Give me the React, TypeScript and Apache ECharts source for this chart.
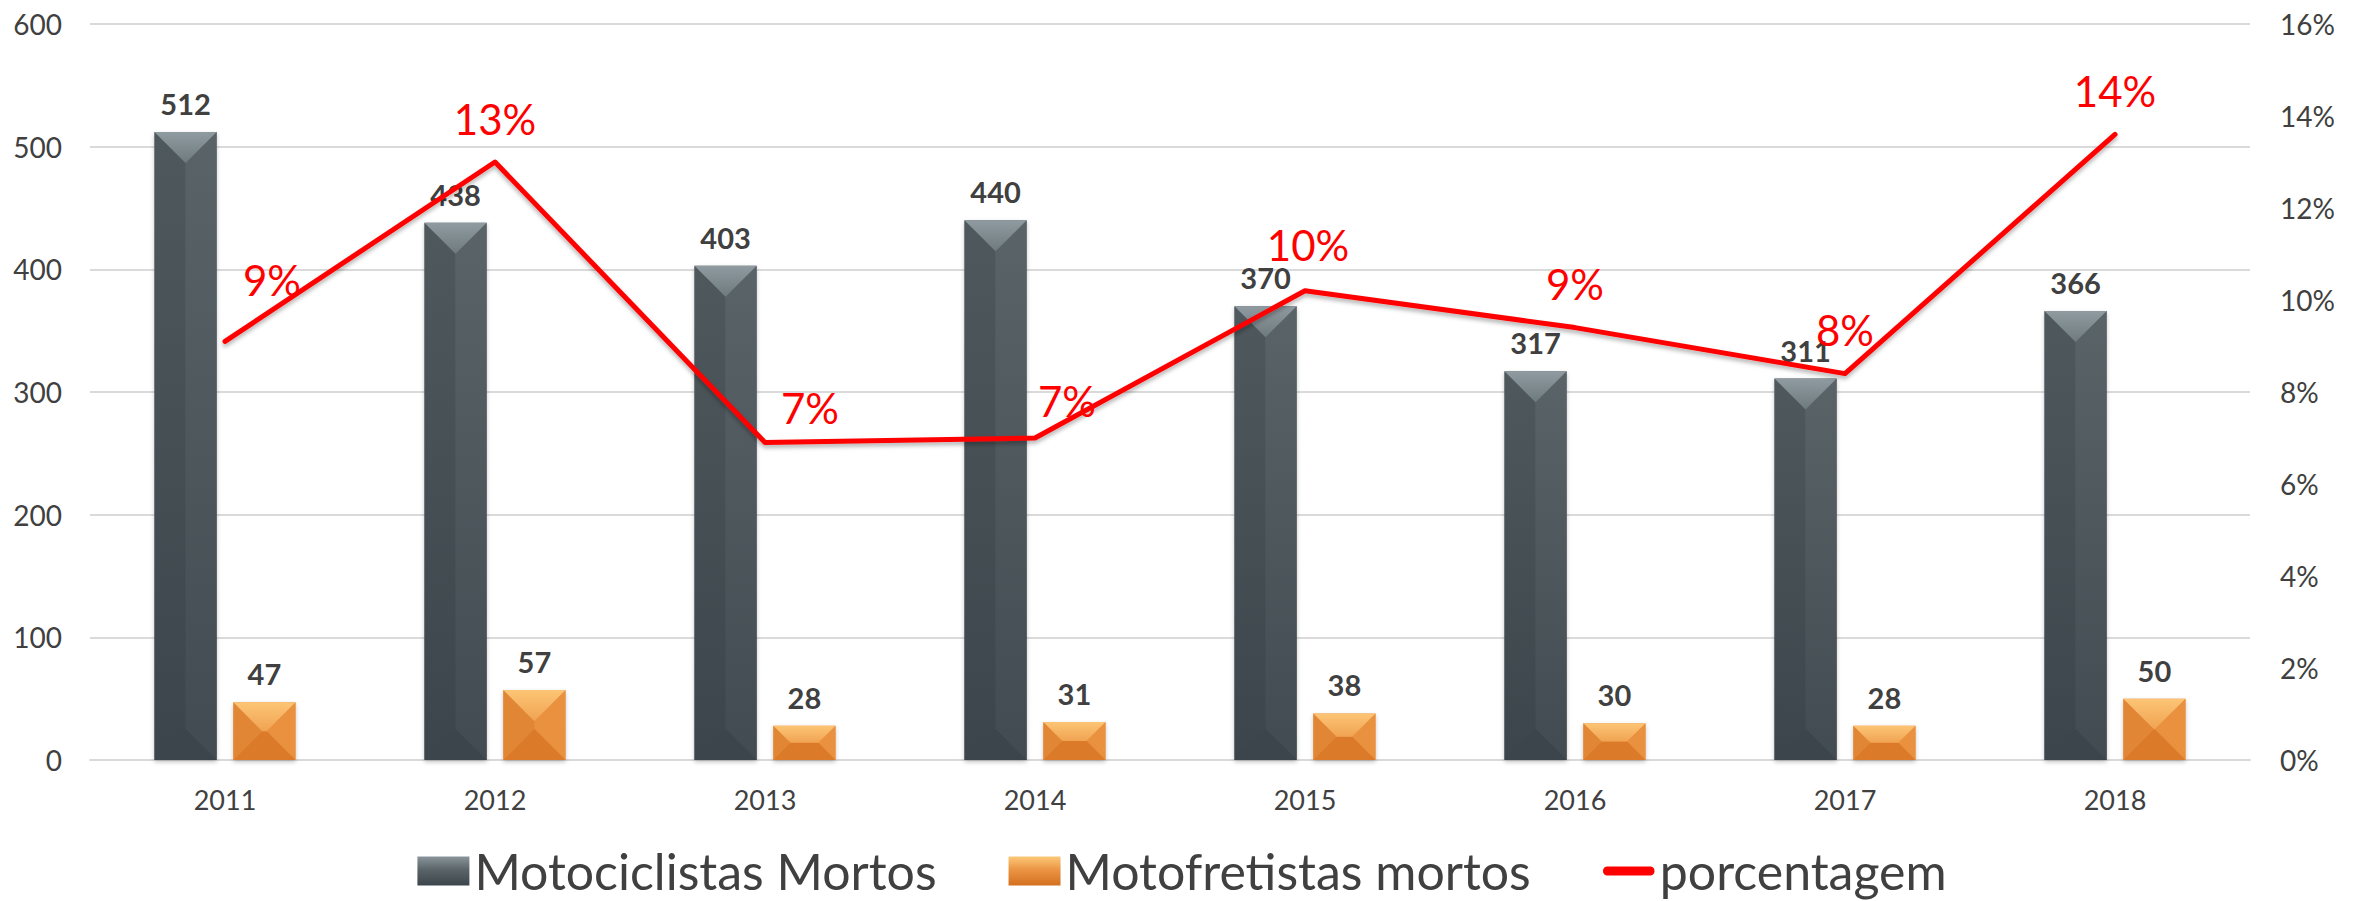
import React, { useEffect, useRef } from "react";
import * as echarts from "echarts";

// ---- data ----
const YEARS = ["2011", "2012", "2013", "2014", "2015", "2016", "2017", "2018"];
const MOTOCICLISTAS = [512, 438, 403, 440, 370, 317, 311, 366];
const MOTOFRETISTAS = [47, 57, 28, 31, 38, 30, 28, 50];
const PORCENTAGEM = [9.1, 13.0, 6.9, 7.0, 10.2, 9.4, 8.4, 13.6];
const LEFT_AXIS = { min: 0, max: 600, interval: 100 };
const RIGHT_AXIS = { min: 0, max: 16, interval: 2 };
const SERIES_NAMES = ["Motociclistas Mortos", "Motofretistas mortos", "porcentagem"];

// ---- style ----
const FONT = 'Lato, "Noto Sans", sans-serif';
const TEXT = "#404040";
const BAR_W = 0.23;
const BAR_GAP = 0.27;
const PCT_LABEL_OFFSETS: number[][] = [
  [47, -18], [0, 0], [45, 9], [32, 6], [3, -2], [0, 0], [0, 0], [0, 0],
];
const LINE_ICON = "path://M0,0 L0,0 M4,10 L48,10 C53,10 53,19 48,19 L4,19 C-1,19 -1,10 4,10 Z M52,29 L52,29";

const lg = (stops: [number, string][]) =>
  new echarts.graphic.LinearGradient(0, 0, 0, 1, stops.map(([offset, color]) => ({ offset, color })));

const DARK = {
  top: () => lg([[0, "#909ba1"], [1, "#6f7a7f"]]),
  bottom: () => "#3c454b",
  left: () => lg([[0, "#4f585d"], [1, "#3c454b"]]),
  center: () => lg([[0, "#566065"], [1, "#40494f"]]),
  right: () => lg([[0, "#596368"], [1, "#424b51"]]),
};
const ORANGE = {
  top: () => lg([[0, "#fcc575"], [1, "#f0a352"]]),
  bottom: () => "#db7a28",
  left: () => "#e18634",
  center: () => "#e68c3b",
  right: () => "#e9913f",
};

function bevel(side: number, pal: any) {
  return (params: any, api: any) => {
    const i = api.value(0);
    const v = api.value(1);
    const p0 = api.coord([i, 0]);
    const p1 = api.coord([i, v]);
    const band = api.size([1, 0])[0];
    const w = band * BAR_W;
    const gap = w * BAR_GAP;
    const cx = p0[0] + side * (gap / 2 + w / 2);
    const x0 = cx - w / 2;
    const x1 = cx + w / 2;
    const yt = p1[1];
    const yb = p0[1];
    const h = yb - yt;
    const d = Math.min(w / 2, h / 2);
    const poly = (pts: number[][], fill: any) => ({
      type: "polygon",
      shape: { points: pts },
      style: { fill },
    });
    return {
      type: "group",
      children: [
        poly([[x0, yt], [x0 + d, yt + d], [x0 + d, yb - d], [x0, yb]], pal.left()),
        poly([[x1, yt], [x1 - d, yt + d], [x1 - d, yb - d], [x1, yb]], pal.right()),
        poly([[x0 + d, yt + d], [cx, yt + d], [cx, yb - d], [x0 + d, yb - d]], pal.left()),
        poly([[cx, yt + d], [x1 - d, yt + d], [x1 - d, yb - d], [cx, yb - d]], pal.center()),
        poly([[x0, yb], [x1, yb], [x1 - d, yb - d], [x0 + d, yb - d]], pal.bottom()),
        poly([[x0, yt], [x1, yt], [x1 - d, yt + d], [x0 + d, yt + d]], pal.top()),
      ],
    };
  };
}

export default function App() {
  const ref = useRef<HTMLDivElement>(null);
  useEffect(() => {
    document.body.style.margin = "0";
    const chart = echarts.init(ref.current!, null, { renderer: "svg" });
    const barLabel = {
      show: true,
      position: "top",
      distance: 14,
      color: TEXT,
      fontFamily: FONT,
      fontWeight: "bold",
      fontSize: 29,
    };
    chart.setOption({
      animation: false,
      backgroundColor: "#ffffff",
      textStyle: { fontFamily: FONT },
      grid: { left: 90, right: 114, top: 24, bottom: 141, containLabel: false },
      legend: {
        data: [
          { name: SERIES_NAMES[0], icon: "rect", itemStyle: { color: lg([[0, "#8a959b"], [0.45, "#5a6469"], [1, "#3c454b"]]) } },
          { name: SERIES_NAMES[1], icon: "rect", itemStyle: { color: lg([[0, "#fcc878"], [0.45, "#eb9544"], [1, "#d3701f"]]) } },
          { name: SERIES_NAMES[2], icon: LINE_ICON, itemStyle: { color: "#ff0000", opacity: 1, borderWidth: 0 } },
        ],
        left: "center",
        top: 846,
        padding: 0,
        itemWidth: 52,
        itemHeight: 29,
        itemGap: 72,
        textStyle: { fontFamily: FONT, fontSize: 50, color: TEXT },
      },
      xAxis: {
        type: "category",
        data: YEARS,
        axisLine: { show: true, lineStyle: { color: "#d9d9d9", width: 2 } },
        axisTick: { show: false },
        axisLabel: { color: TEXT, fontSize: 27, fontFamily: FONT, margin: 26 },
      },
      yAxis: [
        {
          type: "value",
          min: LEFT_AXIS.min,
          max: LEFT_AXIS.max,
          interval: LEFT_AXIS.interval,
          axisLine: { show: false },
          axisTick: { show: false },
          axisLabel: { color: TEXT, fontSize: 28, fontFamily: FONT, margin: 28 },
          splitLine: { lineStyle: { color: "#dadada", width: 2 } },
        },
        {
          type: "value",
          position: "right",
          min: RIGHT_AXIS.min,
          max: RIGHT_AXIS.max,
          interval: RIGHT_AXIS.interval,
          axisLine: { show: false },
          axisTick: { show: false },
          axisLabel: { color: TEXT, fontSize: 28, fontFamily: FONT, margin: 30, formatter: "{value}%" },
          splitLine: { show: false },
        },
      ],
      series: [
        {
          name: SERIES_NAMES[0],
          type: "bar",
          data: MOTOCICLISTAS,
          barWidth: `${BAR_W * 100}%`,
          barGap: `${BAR_GAP * 100}%`,
          itemStyle: {
            color: lg([[0, "#5a6469"], [1, "#3c454b"]]),
            shadowBlur: 4,
            shadowOffsetY: 2,
            shadowColor: "rgba(0,0,0,0.25)",
          },
          label: barLabel,
          z: 2,
        },
        {
          name: SERIES_NAMES[1],
          type: "bar",
          data: MOTOFRETISTAS,
          barWidth: `${BAR_W * 100}%`,
          barGap: `${BAR_GAP * 100}%`,
          itemStyle: {
            color: "#e68c3d",
            shadowBlur: 4,
            shadowOffsetY: 2,
            shadowColor: "rgba(0,0,0,0.25)",
          },
          label: barLabel,
          z: 2,
        },
        {
          name: "bevel-moto",
          type: "custom",
          silent: true,
          renderItem: bevel(-1, DARK),
          data: MOTOCICLISTAS.map((v, i) => [i, v]),
          encode: { x: 0, y: 1 },
          z: 3,
        },
        {
          name: "bevel-frete",
          type: "custom",
          silent: true,
          renderItem: bevel(1, ORANGE),
          data: MOTOFRETISTAS.map((v, i) => [i, v]),
          encode: { x: 0, y: 1 },
          z: 3,
        },
        {
          name: SERIES_NAMES[2],
          type: "line",
          yAxisIndex: 1,
          data: PORCENTAGEM.map((v, i) => ({
            value: v,
            label: { offset: PCT_LABEL_OFFSETS[i] },
          })),
          symbol: "circle",
          symbolSize: 1,
          showSymbol: true,
          lineStyle: {
            color: "#ff0000",
            width: 5,
            cap: "round",
            join: "round",
            shadowColor: "rgba(0,0,0,0.3)",
            shadowBlur: 4,
            shadowOffsetY: 3,
          },
          itemStyle: { color: "rgba(255,0,0,0)", borderWidth: 0 },
          label: {
            show: true,
            position: "top",
            distance: 22,
            color: "#ff0000",
            fontFamily: FONT,
            fontSize: 42,
            formatter: (p: any) => `${Math.round(p.value)}%`,
          },
          z: 5,
        },
      ],
    });
    return () => chart.dispose();
  }, []);
  return (
    <div
      ref={ref}
      style={{ position: "absolute", left: 0, top: 0, width: 2364, height: 901 }}
    />
  );
}
